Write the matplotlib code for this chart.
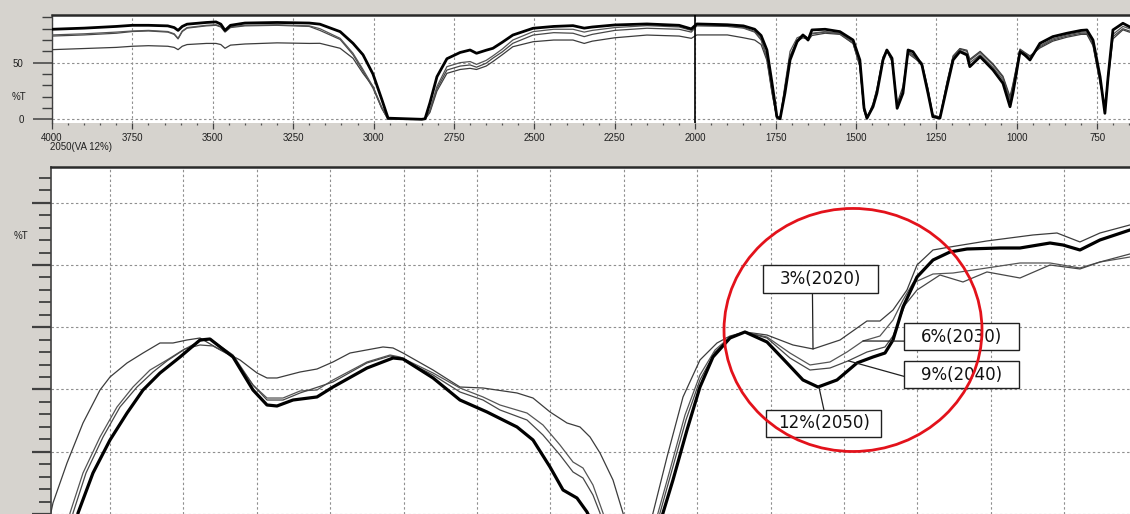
import matplotlib
matplotlib.use("Agg")
import matplotlib.pyplot as plt
from matplotlib.patches import Ellipse, Rectangle
from matplotlib.ticker import MultipleLocator

plt.rcParams['font.family'] = ['Liberation Sans', 'DejaVu Sans']

# ---------------- top panel: full IR spectra (%T vs cm-1) ----------------
wn_top = [4000, 3900, 3800, 3750, 3700, 3640, 3620, 3608, 3595, 3580, 3520, 3490, 3475, 3462, 3445,
          3400, 3300, 3200, 3167, 3104, 3064, 3033, 3002, 2975, 2955, 2850, 2840, 2825, 2803, 2772,
          2731, 2700, 2680, 2650, 2629, 2600, 2567, 2504, 2440, 2380, 2345, 2320, 2250, 2150, 2050,
          2012, 1995, 1900, 1850, 1815, 1795, 1777, 1761, 1746, 1736, 1721, 1705, 1683, 1665, 1655,
          1649, 1637, 1596, 1550, 1509, 1488, 1475, 1466, 1447, 1435, 1416, 1404, 1388, 1372, 1354,
          1338, 1323, 1295, 1276, 1261, 1239, 1217, 1198, 1177, 1155, 1146, 1114, 1074, 1043, 1021,
          1012, 990, 975, 959, 928, 888, 844, 800, 782, 763, 741, 726, 716, 701, 670, 650, 632]

top_2050 = [79.5, 80.5, 82, 83, 83, 82.5, 81, 78.5, 82, 84, 85.5, 86, 84, 78.5, 83,
            85, 85.5, 85, 84, 77.4, 67.1, 57, 40, 18, 1, 0, 0.5, 14.4, 37.6, 53.5,
            59, 61.2, 58.3, 61, 62.7, 68, 74.4, 80.4, 82, 82.7, 80.5, 81.5, 83.3, 84.2, 83,
            79.8, 84.2, 83.5, 82.5, 79.5, 74, 61.2, 31.8, 2.3, 0.5, 23, 52.4, 68.6, 74.5, 72,
            70, 78.9, 79.5, 77.4, 70, 52.4, 10, 1, 11.1, 23, 52.4, 61.2, 53.9, 9.7, 23,
            61.2, 59.7, 48, 23, 2.3, 1, 28.8, 52.4, 59.7, 56.8, 46.5, 55.3, 43.6, 31.8, 11.1,
            23, 59.7, 56.8, 52.4, 67.1, 73, 76, 78.5, 78.9, 70, 37.6, 5.3, 37.6, 78.9, 84.8, 81.8, 80]

top_2030 = [74.5, 75.5, 77, 78, 78.5, 77.5, 75.5, 71.5, 78, 81, 83, 83.5, 82, 77.5, 81.8,
            83, 83.5, 82.5, 80, 71.5, 58.3, 44, 29, 11, 0, 0, 0, 8, 29, 46.5,
            50, 51, 48.5, 52, 56, 62, 70, 77.4, 79.5, 79.5, 77, 78.5, 81, 82.7, 81.5,
            78.5, 83.5, 83, 81, 77.5, 71, 55, 25, 1, 0, 30, 60, 72, 74, 73,
            71, 76, 77.5, 76, 68, 48, 8, 0.5, 13, 26, 54, 61, 52, 12, 25,
            59, 56, 48, 25, 3, 1, 31, 54, 61, 58, 50, 57, 46, 35, 16,
            28, 60, 56, 53, 65, 71, 74.5, 77, 77, 68, 35, 8, 40, 75, 82, 80, 78.5]

top_2040 = [73.5, 74.5, 76, 77.5, 78, 77, 75, 71, 77.5, 80.5, 82.5, 83, 81.5, 77, 81,
            82.5, 83, 82, 78.5, 70.5, 57, 42.5, 27.5, 10, 0, 0, 0, 7, 27, 43.5,
            47, 48, 46, 49.5, 54, 59.5, 67.1, 74.4, 76.5, 76, 73, 75, 78.5, 80.4, 79.5,
            77, 82.5, 82, 80.5, 77, 70, 54, 24, 1, 0, 28, 56, 70, 73, 72.5,
            70.5, 75.5, 77, 75.5, 67, 47, 8, 0.5, 12, 25, 53, 60.5, 51, 11, 26,
            58, 55, 49, 26, 3, 1.5, 32, 55, 62, 60, 52, 59, 48, 37, 18,
            30, 61, 58, 55, 64, 70, 73.5, 76, 76, 66, 33, 10, 38, 73, 80, 78, 77]

top_2020 = [61.5, 62.5, 63.5, 64.5, 65, 64.5, 63.5, 61.5, 64.5, 66, 67, 67, 66, 62.7, 65.5,
            66.5, 67.5, 67, 67.1, 62.7, 53.9, 40.6, 29, 10, 0, 0, 0, 6, 25, 40.6,
            44, 45, 44, 47, 51, 57, 64.1, 68.5, 70, 70, 67, 69, 72, 74.4, 73.5,
            71.5, 74.5, 74.5, 72, 70, 66, 52, 23, 1, 0, 27, 55, 69, 72, 71,
            69.5, 74, 76, 75, 67, 47, 8, 0.5, 14, 27, 55, 61, 52, 14, 29,
            60, 57, 50, 27, 4, 2, 33, 56, 62.5, 61, 53, 60, 49, 38, 20,
            31, 62, 59, 56, 63, 69, 72.5, 75, 75, 65, 32, 12, 35, 71, 79, 77, 76]

top_xticks = [4000, 3750, 3500, 3250, 3000, 2750, 2500, 2250, 2000, 1750, 1500, 1250, 1000, 750]
cursor_wn = 2000

# ---------------- bottom panel: expanded region (arbitrary x units) ----------------
bx_2020 = [-8.86, -7.77, -5.86, -3.68, -1.36, 0, 2.32, 4.50, 6.81, 8.58, 10.49, 12.26, 14.58, 17.71,
           20.03, 21.39, 22.75, 25.89, 28.20, 30.38, 32.70, 37.19, 38.56, 39.92, 44.01, 47.68, 50.82,
           55.45, 57.63, 59.95, 62.26, 64.03, 65.40, 66.76, 68.53, 69.89, 70.84, 72.89, 73.98, 75.89,
           78.07, 80.38, 82.70, 84.47, 86.51, 89.51, 93.05, 95.78, 99.46, 103.13, 104.90, 106.68,
           108.58, 109.95, 112.13, 114.44, 119.48, 125.75, 129.02, 132.15, 134.88, 138.96, 140]
by_2020 = [-4.18, 1.77, 8.19, 14.62, 19.92, 22.01, 24.26, 25.86, 27.47, 27.47, 27.95, 28.27, 26.67, 24.74,
           22.65, 21.85, 21.85, 22.81, 23.29, 24.42, 25.86, 26.83, 26.67, 25.86, 23.13, 20.40, 20.24,
           19.44, 18.63, 16.39, 14.62, 13.98, 12.37, 9.80, 5.46, 0.16, -4.18, -4.18, 0.16, 9.16,
           18.80, 24.74, 27.47, 28.59, 29.24, 28.75, 27.15, 26.51, 27.95, 31.00, 31.00, 32.77,
           35.98, 40.00, 42.41, 42.89, 43.86, 44.82, 45.14, 43.70, 45.14, 46.43, 46.6]

bx_2030 = [-6.0, -5.45, -3.68, -1.36, 0.95, 3.13, 5.45, 7.77, 9.95, 12.26, 13.62, 16.76, 19.48, 21.39,
           23.57, 25.89, 28.20, 30.38, 35.01, 38.15, 39.51, 44.01, 47.68, 50.82, 53.13, 56.81, 58.99,
           61.31, 63.08, 64.44, 65.80, 67.17, 68.12, 73.57, 74.66, 76.29, 78.34, 80.38, 82.43, 84.47,
           86.51, 89.51, 92.64, 95.37, 98.09, 100.41, 102.59, 104.90, 106.68, 108.04, 109.40, 112.13,
           114.85, 119.48, 123.98, 128.07, 132.15, 134.88, 138.96, 140]
by_2030 = [-4.18, 0.16, 6.59, 12.37, 17.19, 20.40, 23.13, 24.74, 26.35, 27.79, 28.11, 25.54, 20.72, 18.63,
           18.63, 19.76, 19.92, 21.53, 24.42, 25.54, 25.22, 22.65, 20.24, 18.80, 17.51, 16.22, 14.30,
           11.08, 8.35, 7.39, 4.66, 0.16, -4.18, -4.18, 0.16, 7.07, 15.90, 22.33, 26.35, 28.43,
           29.24, 28.43, 25.86, 23.94, 24.42, 26.02, 27.79, 28.59, 31.16, 34.38, 37.11, 38.55,
           38.71, 39.52, 40.32, 40.32, 39.52, 40.48, 41.28, 41.4]

bx_2040 = [-5.59, -5.04, -3.27, -0.95, 1.36, 3.68, 5.86, 7.77, 10.22, 12.26, 14.03, 16.76, 19.48, 21.39,
           23.57, 25.89, 30.38, 35.01, 38.15, 39.51, 44.01, 47.68, 50.82, 53.13, 56.81, 58.99, 61.31,
           63.08, 64.44, 65.80, 66.76, 67.44, 73.84, 74.93, 76.57, 78.47, 80.38, 82.43, 84.47, 86.51,
           89.51, 92.64, 95.37, 98.09, 100.54, 103.13, 105.59, 106.68, 108.31, 109.95, 113.08, 116.21,
           119.48, 123.98, 128.07, 132.15, 134.88, 138.96, 140]
by_2040 = [-4.18, 0.16, 6.59, 12.37, 17.19, 20.40, 22.81, 24.6, 26.51, 27.15, 26.99, 25.22, 20.72, 18.31,
           18.31, 19.44, 21.20, 24.26, 25.38, 25.06, 22.33, 19.60, 18.31, 16.71, 15.10, 12.69, 9.48,
           6.75, 5.78, 3.05, 0.16, -4.18, -4.18, 0.16, 7.07, 15.10, 21.53, 26.02, 28.27, 29.24,
           28.27, 25.06, 23.13, 23.45, 24.58, 26.02, 26.83, 28.59, 33.57, 35.98, 38.39, 37.27,
           38.88, 37.91, 40.00, 39.36, 40.48, 41.77, 41.9]

bx_2050 = [-4.8, -4.36, -2.32, 0, 2.32, 4.50, 6.81, 9.54, 12.26, 13.62, 16.76, 19.48, 21.39, 22.75,
           24.93, 28.20, 30.38, 35.01, 38.56, 39.92, 44.01, 47.68, 51.36, 55.45, 57.63, 59.95, 61.72,
           63.62, 64.99, 66.76, 74.25, 75.34, 76.70, 78.61, 80.38, 82.15, 84.47, 86.51, 89.51, 92.23,
           94.41, 96.46, 99.05, 101.77, 103.95, 105.59, 106.68, 108.04, 109.95, 112.13, 114.44, 116.76,
           121.25, 123.98, 128.07, 129.84, 132.15, 134.88, 138.96, 140]
by_2050 = [-4.18, 0.16, 6.59, 11.89, 16.22, 19.92, 22.65, 25.22, 27.95, 28.11, 25.22, 19.92, 17.51, 17.35,
           18.31, 18.80, 20.40, 23.45, 25.06, 24.90, 21.85, 18.31, 16.39, 13.98, 11.89, 7.55, 3.86,
           2.57, 0.32, -4.18, -4.18, 0.16, 5.46, 13.49, 20.40, 25.22, 28.27, 29.24, 27.63, 24.26,
           21.53, 20.40, 21.53, 24.26, 25.22, 25.86, 27.95, 33.25, 38.07, 40.80, 42.09, 42.57,
           42.73, 42.73, 43.53, 43.21, 42.41, 44.02, 45.62, 45.8]

label_texts = ['3%(2020)', '6%(2030)', '9%(2040)', '12%(2050)']
label_centers = [(96.8, 37.75), (116.0, 28.51), (116.0, 22.33), (97.27, 14.54)]
label_targets = [(95.78, 26.51), (102.59, 27.79), (100.6, 24.6), (96.59, 20.40)]
label_anchor_rel = [(0.43, 0.0), (0.0, 0.33), (0.0, 0.45), (0.5, 1.0)]
box_w, box_h = 15.67, 4.34

circle_center = (101.23, 29.56)
circle_w, circle_h = 35.15, 39.04

# ---------------- figure ----------------
W, H = 1130, 514
fig = plt.figure(figsize=(W / 100, H / 100), dpi=100)
fig.patch.set_facecolor('#d6d3ce')


def px_axes(left, top, right, bottom):
    return fig.add_axes([left / W, 1 - bottom / H, (right - left) / W, (bottom - top) / H])


grid_kw = dict(color='#8f8f8f', lw=0.8, ls=(0, (2.2, 2.2)))
thin_colors = {'2020': '#3c3c3c', '2030': '#555555', '2040': '#474747'}

# ---- top axes ----
ax1 = px_axes(52, 15, 1135, 122.7)
ax1.set_facecolor('white')
ax1.set_xlim(4000, 632.4)
ax1.set_ylim(-3.0, 92.1)
ax1.set_xticks(top_xticks)
ax1.set_xticklabels([str(t) for t in top_xticks])
ax1.xaxis.set_minor_locator(MultipleLocator(50))
ax1.yaxis.set_major_locator(MultipleLocator(50))
ax1.yaxis.set_minor_locator(MultipleLocator(10))
ax1.tick_params(axis='y', which='major', length=13.5, width=1.1, color='#404040', pad=7,
                labelsize=7, labelcolor='#202020')
ax1.tick_params(axis='y', which='minor', length=7.5, width=1.0, color='#404040')
ax1.tick_params(axis='x', which='major', length=4.5, width=0.9, color='#404040', pad=3,
                labelsize=7, labelcolor='#202020')
ax1.tick_params(axis='x', which='minor', length=1.6, width=0.9, color='#505050')
ax1.grid(True, which='major', **grid_kw)
for s in ('right', 'bottom'):
    ax1.spines[s].set_visible(False)
ax1.spines['top'].set_linewidth(1.8)
ax1.spines['top'].set_color('#2a2a2a')
ax1.spines['left'].set_linewidth(1.0)
ax1.spines['left'].set_color('#404040')

ax1.plot(wn_top, top_2020, color=thin_colors['2020'], lw=0.9, zorder=3)
ax1.plot(wn_top, top_2040, color=thin_colors['2040'], lw=0.9, zorder=3)
ax1.plot(wn_top, top_2030, color=thin_colors['2030'], lw=0.9, zorder=3)
ax1.plot(wn_top, top_2050, color='black', lw=2.0, zorder=4)
ax1.axvline(cursor_wn, color='black', lw=1.2, zorder=5)

fig.text(19 / W, 1 - 97 / H, '%T', fontsize=7, ha='center', va='center', color='#202020')
fig.text(50 / W, 1 - 147 / H, '2050(VA 12%)', fontsize=7, ha='left', va='center', color='#202020')

# ---- bottom axes ----
ax2 = px_axes(51, 167, 1135, 514)
ax2.set_facecolor('white')
ax2.set_xlim(-8.04, 139.65)
ax2.set_ylim(0, 55.74)
ax2.xaxis.set_major_locator(MultipleLocator(10))
ax2.yaxis.set_major_locator(MultipleLocator(10))
ax2.yaxis.set_minor_locator(MultipleLocator(2))
ax2.tick_params(axis='x', which='both', length=0, labelbottom=False)
ax2.tick_params(axis='y', which='major', length=13.5, width=1.6, color='#404040', labelleft=False)
ax2.tick_params(axis='y', which='minor', length=8.5, width=1.3, color='#404040')
ax2.grid(True, which='major', **grid_kw)
for s in ('right', 'bottom'):
    ax2.spines[s].set_visible(False)
ax2.spines['top'].set_linewidth(1.8)
ax2.spines['top'].set_color('#2a2a2a')
ax2.spines['left'].set_linewidth(1.2)
ax2.spines['left'].set_color('#404040')

ax2.plot(bx_2020, by_2020, color=thin_colors['2020'], lw=0.9, zorder=3)
ax2.plot(bx_2030, by_2030, color=thin_colors['2030'], lw=0.9, zorder=3)
ax2.plot(bx_2040, by_2040, color=thin_colors['2040'], lw=0.9, zorder=3)
ax2.plot(bx_2050, by_2050, color='black', lw=2.3, zorder=4)

fig.text(21 / W, 1 - 236 / H, '%T', fontsize=7, ha='center', va='center', color='#202020')

for txt, (cx, cy), tgt, (rx, ry) in zip(label_texts, label_centers, label_targets, label_anchor_rel):
    x0, y0 = cx - box_w / 2, cy - box_h / 2
    anchor = (x0 + rx * box_w, y0 + ry * box_h)
    ax2.annotate('', xy=tgt, xytext=anchor,
                 arrowprops=dict(arrowstyle='-', color='#202020', lw=0.9, shrinkA=0, shrinkB=0),
                 zorder=6)
    ax2.add_patch(Rectangle((x0, y0), box_w, box_h, facecolor='white', edgecolor='#202020',
                            lw=1.0, zorder=7))
    ax2.text(cx, cy, txt, ha='center', va='center', fontsize=12, family='DejaVu Sans',
             color='#111111', zorder=8)

ax2.add_patch(Ellipse(circle_center, circle_w, circle_h, fill=False, edgecolor='#e3121b',
                      lw=2.0, zorder=9))

fig.savefig('out.png', dpi=100, facecolor=fig.get_facecolor())
